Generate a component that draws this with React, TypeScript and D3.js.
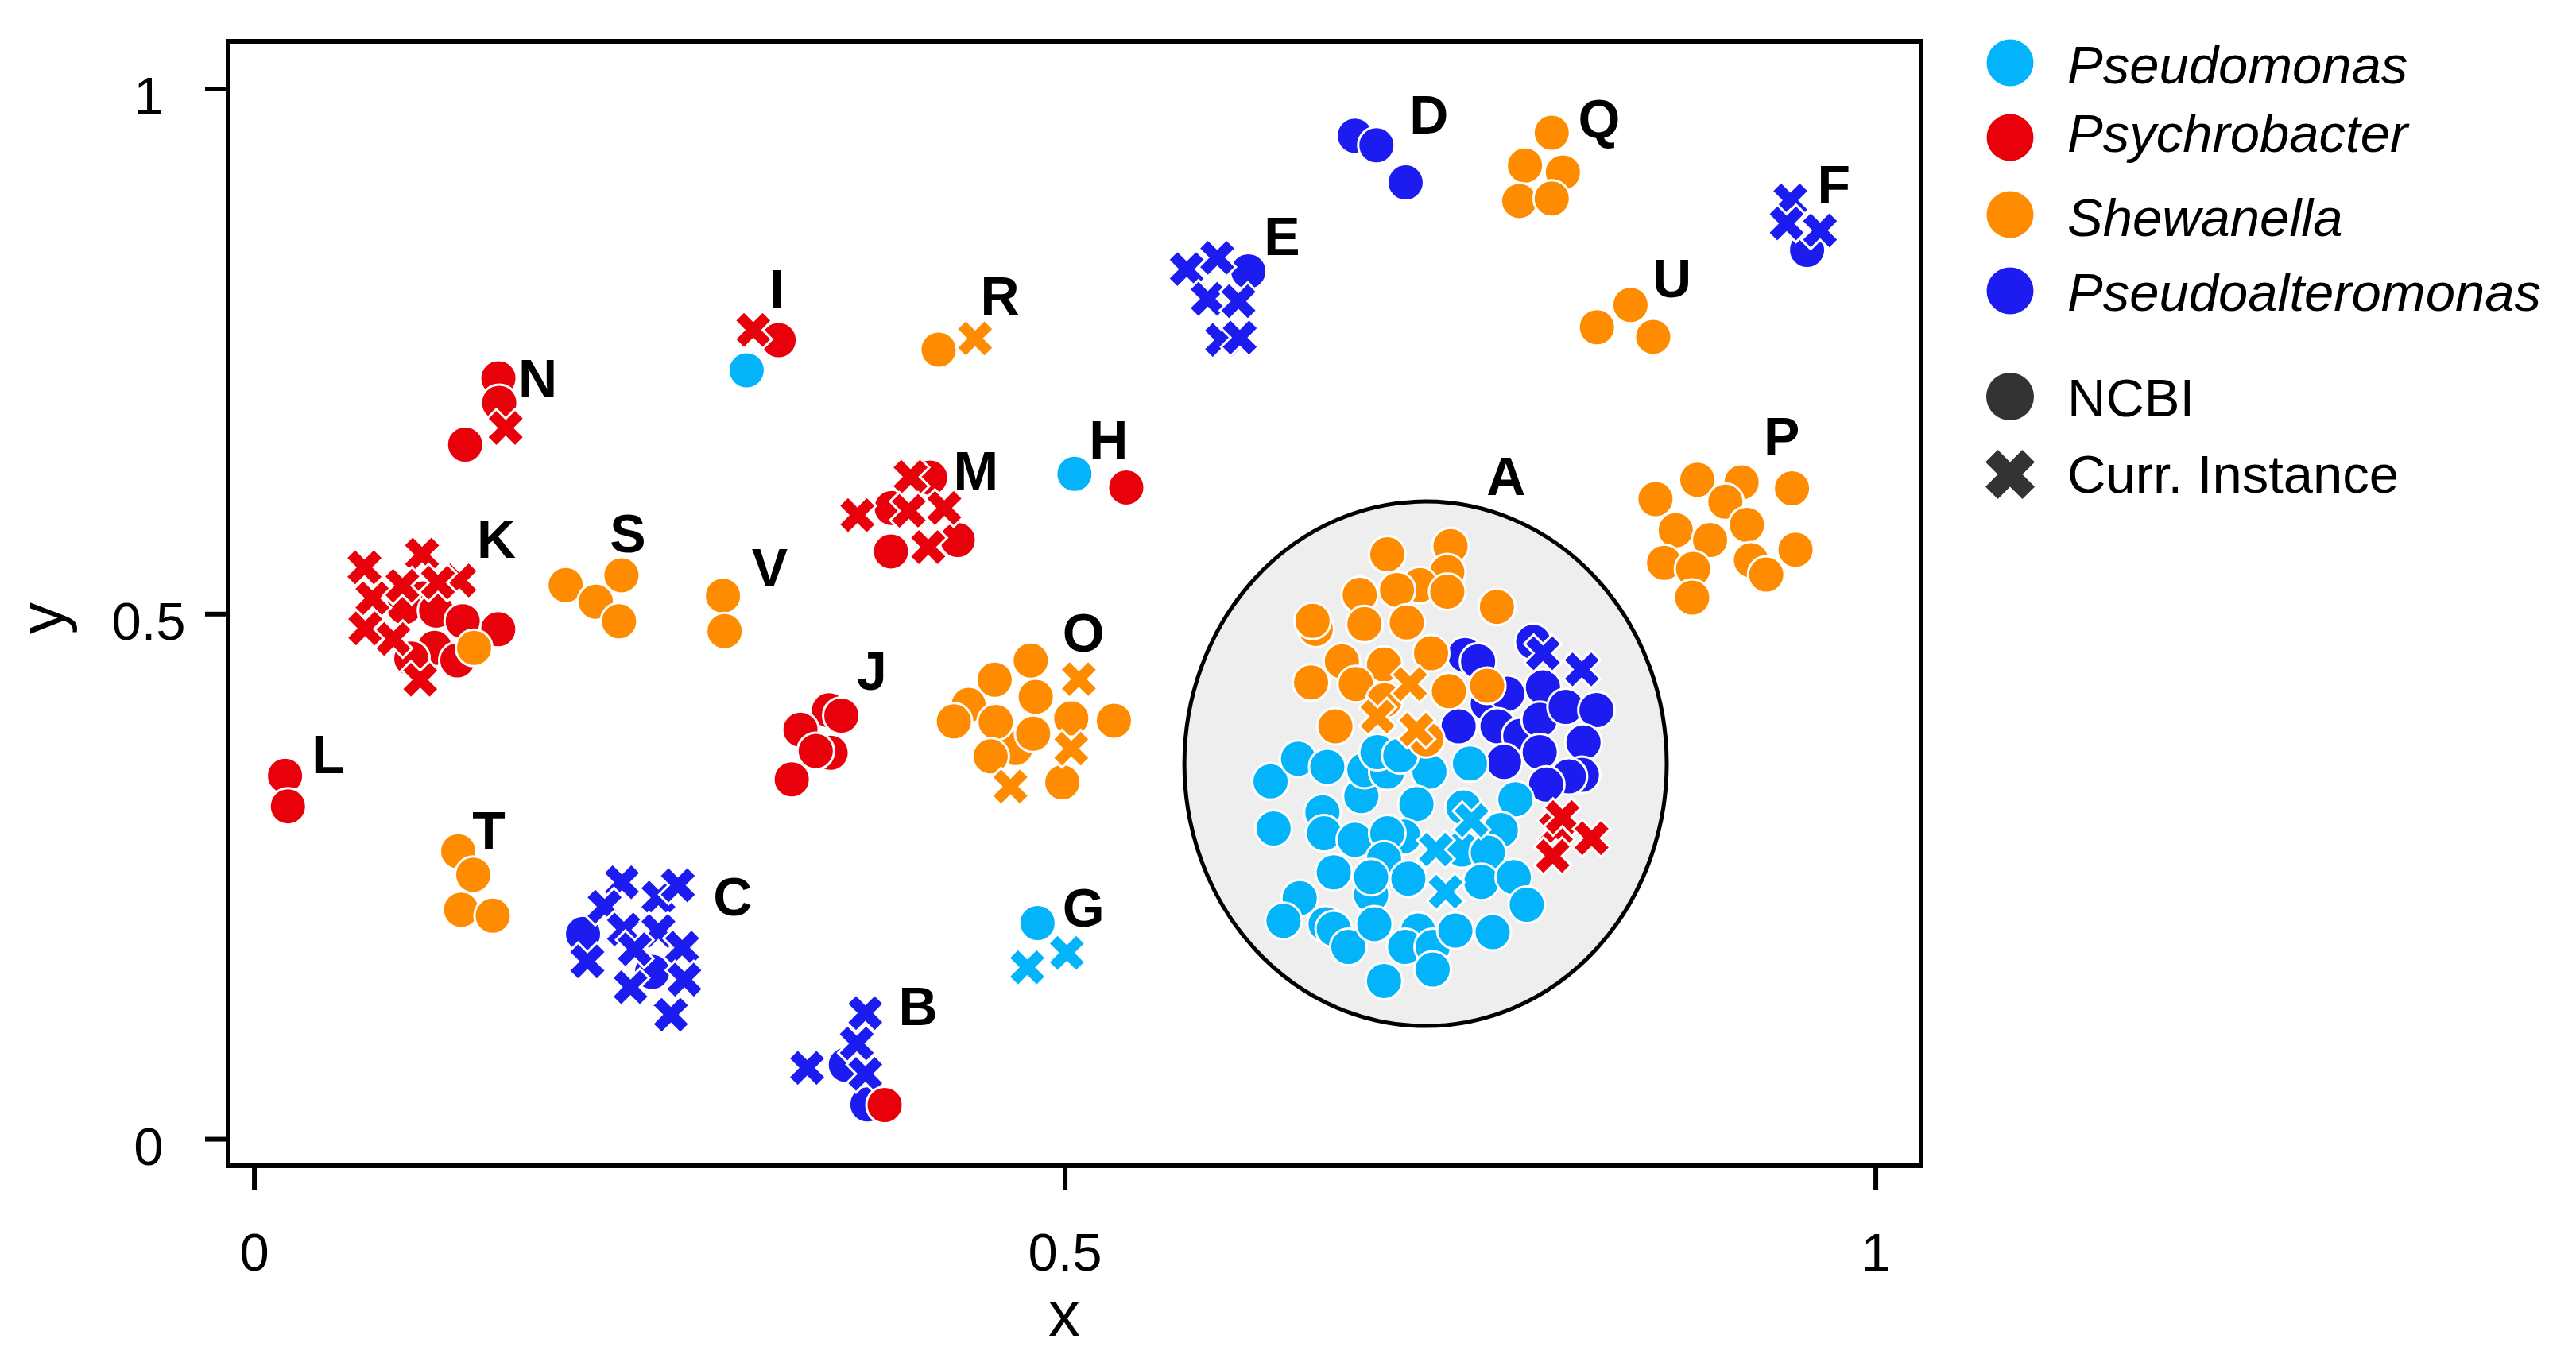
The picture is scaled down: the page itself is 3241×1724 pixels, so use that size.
import React, { useEffect } from 'react';
import * as d3 from 'd3';

type Pt = [number, number];

// ---------- categories ----------
const genera = ['Pseudomonas', 'Psychrobacter', 'Shewanella', 'Pseudoalteromonas'];
const genusColors = ['#04B4FB', '#E8000B', '#FF8C00', '#1C1CF0'];
const sources = ['NCBI', 'Curr. Instance'];

// ---------- axis ----------
const xTicks = [0, 0.5, 1];
const xTickLabels = ['0', '0.5', '1'];
const yTicks = [0, 0.5, 1];
const yTickLabels = ['0', '0.5', '1'];
const xDomain: Pt = [-0.0162, 1.0279];
const yDomain: Pt = [-0.0253, 1.0454];

// ---------- series (x, y) ----------
const pseudomonasNCBI: Pt[] = [
  [0.3036, 0.7321], [0.5058, 0.6335], [0.483, 0.2059],
  [0.6267, 0.3407], [0.6437, 0.3623], [0.6617, 0.3546], [0.6286, 0.2959], [0.6587, 0.3113],
  [0.6597, 0.2913], [0.6827, 0.3268], [0.6846, 0.3515], [0.6987, 0.35], [0.7247, 0.35],
  [0.7497, 0.3577], [0.7167, 0.3191], [0.6787, 0.2851], [0.7087, 0.2882], [0.7777, 0.3237],
  [0.7687, 0.2944], [0.7457, 0.316], [0.6927, 0.3685], [0.7067, 0.3654], [0.6987, 0.2913],
  [0.6967, 0.2666], [0.7447, 0.2758], [0.7607, 0.2728], [0.6887, 0.2327],
  [0.6657, 0.2541], [0.6447, 0.2295], [0.6347, 0.2079], [0.6607, 0.2048], [0.6657, 0.2002],
  [0.6747, 0.1832], [0.6907, 0.2048], [0.6887, 0.2496], [0.7117, 0.2481], [0.7177, 0.1986],
  [0.7097, 0.1832], [0.7267, 0.1832], [0.7407, 0.1986], [0.7567, 0.245], [0.7637, 0.1971],
  [0.7767, 0.2496], [0.7847, 0.2233], [0.6967, 0.1507], [0.7267, 0.1616],
];
const pseudomonasCurr: Pt[] = [
  [0.5011, 0.1774], [0.4767, 0.1637],
  [0.7507, 0.3037], [0.7287, 0.2758], [0.7347, 0.2357],
];

const psychrobacterNCBI: Pt[] = [
  [0.1505, 0.7246], [0.151, 0.7011], [0.13, 0.6614],
  [0.3233, 0.7609], [0.5377, 0.6206],
  [0.4167, 0.63], [0.3931, 0.601], [0.4338, 0.5706], [0.3926, 0.5597],
  [0.104, 0.515], [0.0925, 0.5066], [0.1121, 0.5033], [0.1285, 0.4932], [0.1504, 0.4857],
  [0.1111, 0.4678], [0.0968, 0.4577], [0.1252, 0.4559],
  [0.3544, 0.4084], [0.362, 0.4034], [0.3368, 0.3899], [0.3554, 0.3679], [0.3462, 0.3696],
  [0.3314, 0.3426],
  [0.0189, 0.346], [0.0207, 0.317],
  [0.3887, 0.0326],
];
const psychrobacterCurr: Pt[] = [
  [0.155, 0.6773], [0.3077, 0.7706],
  [0.4047, 0.6307], [0.3719, 0.5942], [0.4036, 0.5983], [0.4255, 0.601], [0.4156, 0.5638],
  [0.0679, 0.5445], [0.1034, 0.5566], [0.1264, 0.532], [0.0728, 0.5151], [0.0913, 0.527],
  [0.1132, 0.53], [0.0684, 0.4864], [0.0858, 0.4763], [0.1023, 0.4375],
  [0.8027, 0.2944], [0.8067, 0.3067], [0.8247, 0.2866], [0.8007, 0.2697],
];

const shewanellaNCBI: Pt[] = [
  [0.422, 0.7518],
  [0.192, 0.5276], [0.2106, 0.5118], [0.2264, 0.537], [0.2249, 0.4932],
  [0.289, 0.5175], [0.29, 0.4837],
  [0.1355, 0.4678],
  [0.1257, 0.2742], [0.135, 0.2518], [0.1275, 0.2185], [0.147, 0.2128],
  [0.4788, 0.4557], [0.4405, 0.4135], [0.4566, 0.4376], [0.4819, 0.4212], [0.4314, 0.3978],
  [0.4694, 0.3725], [0.4572, 0.3973], [0.4803, 0.3862], [0.5038, 0.4007], [0.5301, 0.3985],
  [0.4541, 0.3645], [0.4983, 0.3398],
  [0.8001, 0.9583], [0.7836, 0.9272], [0.807, 0.9205], [0.7801, 0.8934], [0.8001, 0.8958],
  [0.8487, 0.7944], [0.828, 0.7732], [0.8627, 0.764],
  [0.8899, 0.6279], [0.9172, 0.6255], [0.8641, 0.6096], [0.9072, 0.607], [0.9483, 0.6198],
  [0.8766, 0.5799], [0.9205, 0.585], [0.8978, 0.5705], [0.8694, 0.5488], [0.8873, 0.543],
  [0.923, 0.5513], [0.9324, 0.5376], [0.9505, 0.5613], [0.8867, 0.5157],
  [0.6987, 0.5569], [0.7377, 0.5647], [0.7357, 0.5399], [0.7187, 0.5276], [0.7047, 0.523],
  [0.6817, 0.5183], [0.7357, 0.5214], [0.7663, 0.5069], [0.6546, 0.4859], [0.6526, 0.4936],
  [0.6846, 0.4905], [0.7107, 0.492], [0.6707, 0.455], [0.6967, 0.4519], [0.7257, 0.4627],
  [0.6517, 0.4349], [0.6793, 0.4334], [0.697, 0.418], [0.7367, 0.4266], [0.7603, 0.4318],
  [0.6667, 0.3932], [0.7227, 0.3809],
];
const shewanellaCurr: Pt[] = [
  [0.4445, 0.7625],
  [0.5085, 0.4381], [0.5038, 0.3719], [0.4663, 0.3358],
  [0.7127, 0.4334], [0.6927, 0.4025], [0.7167, 0.39],
];

const pseudoalteromonasNCBI: Pt[] = [
  [0.6787, 0.9556], [0.692, 0.9464], [0.71, 0.911],
  [0.613, 0.8263], [0.9576, 0.8468],
  [0.2027, 0.1954], [0.2453, 0.1593],
  [0.3648, 0.0708], [0.3781, 0.0332],
  [0.7467, 0.4611], [0.7547, 0.455], [0.7427, 0.3932], [0.7607, 0.4148], [0.7727, 0.4241],
  [0.7667, 0.3932], [0.7807, 0.384], [0.7707, 0.3592], [0.7887, 0.4735], [0.7947, 0.4303],
  [0.7927, 0.3994], [0.8087, 0.4117], [0.8277, 0.4086], [0.8197, 0.3778], [0.7927, 0.3685],
  [0.8187, 0.3469], [0.8107, 0.3454], [0.7967, 0.3377],
];
const pseudoalteromonasCurr: Pt[] = [
  [0.575, 0.8285], [0.5938, 0.8393], [0.588, 0.8002], [0.6069, 0.798], [0.5968, 0.7611],
  [0.6077, 0.7633],
  [0.9473, 0.894], [0.945, 0.872], [0.9656, 0.8654],
  [0.2267, 0.2446], [0.2492, 0.2301], [0.2612, 0.2418], [0.216, 0.2214], [0.2279, 0.1997],
  [0.2492, 0.1983], [0.2638, 0.1824], [0.2054, 0.1694], [0.2346, 0.1809], [0.232, 0.1447],
  [0.2652, 0.152], [0.2569, 0.1186],
  [0.3768, 0.1201], [0.3715, 0.0911], [0.3409, 0.068], [0.3768, 0.0622],
  [0.7947, 0.4627], [0.8187, 0.4473],
];

// ---------- cluster labels ----------
const clusterNames = ['A', 'B', 'C', 'D', 'E', 'F', 'G', 'H', 'I', 'J', 'K', 'L', 'M', 'N', 'O', 'P', 'Q', 'R', 'S', 'T', 'U', 'V'];
const clusterLabelX = [0.7719, 0.4093, 0.295, 0.7244, 0.6338, 0.9741, 0.5114, 0.5268, 0.3221, 0.3808, 0.1493, 0.0456, 0.445, 0.1747, 0.5113, 0.942, 0.8293, 0.4598, 0.2303, 0.1446, 0.8742, 0.3178];
const clusterLabelY = [0.613, 0.1084, 0.2133, 0.9576, 0.8417, 0.8907, 0.2024, 0.6483, 0.7919, 0.4279, 0.5533, 0.3485, 0.6186, 0.7067, 0.4642, 0.6509, 0.9542, 0.7851, 0.5591, 0.2759, 0.8019, 0.5263];

// highlighted region A
const ellipseCenter: Pt = [0.7223, 0.3575];
const ellipseSize: Pt = [0.2975, 0.4994];

const FONT = "'Liberation Sans', Arial, Helvetica, sans-serif";

function xMarkerPath(size: number): string {
  const v: Pt[] = [[-1, -2], [0, -1], [1, -2], [2, -1], [1, 0], [2, 1], [1, 2], [0, 1], [-1, 2], [-2, 1], [-1, 0], [-2, -1]];
  const s = size / 4;
  return 'M' + v.map(([a, b]) => `${a * s},${b * s}`).join('L') + 'Z';
}

export default function App() {
  useEffect(() => {
    document.body.style.margin = '0';
    document.body.style.overflow = 'hidden';
  }, []);

  const left = 287, right = 2417, top = 52, bottom = 1467;
  const x = d3.scaleLinear().domain(xDomain).range([left, right]);
  const y = d3.scaleLinear().domain(yDomain).range([bottom, top]);

  const layers: { pts: Pt[]; genus: number; src: number }[] = [
    { pts: pseudoalteromonasNCBI, genus: 3, src: 0 },
    { pts: pseudoalteromonasCurr, genus: 3, src: 1 },
    { pts: pseudomonasNCBI, genus: 0, src: 0 },
    { pts: psychrobacterNCBI, genus: 1, src: 0 },
    { pts: shewanellaNCBI, genus: 2, src: 0 },
    { pts: shewanellaCurr, genus: 2, src: 1 },
    { pts: pseudomonasCurr, genus: 0, src: 1 },
    { pts: psychrobacterCurr, genus: 1, src: 1 },
  ];

  const R = 23;
  const xPath = xMarkerPath(47);
  const legendXPath = xMarkerPath(62);

  const ecx = x(ellipseCenter[0]);
  const ecy = y(ellipseCenter[1]);
  const erx = x(ellipseCenter[0] + ellipseSize[0] / 2) - ecx;
  const ery = ecy - y(ellipseCenter[1] + ellipseSize[1] / 2);

  const legendGenusY = [79, 173, 270, 366];
  const legendGenusBase = [105, 191, 297, 391];
  const legendSrcY = [499, 597];
  const legendSrcBase = [524, 620];

  return (
    <svg width={3241} height={1724} style={{ position: 'absolute', left: 0, top: 0, display: 'block', background: '#fff' }} fontFamily={FONT}>
      <rect x={0} y={0} width={3241} height={1724} fill="#ffffff" />
      {/* highlight ellipse */}
      <ellipse cx={ecx} cy={ecy} rx={erx} ry={ery} fill="#eeeeee" stroke="#000" strokeWidth={5} />

      {/* points */}
      {layers.map((L, li) => (
        <g key={li}>
          {L.pts.map((p, i) =>
            L.src === 0 ? (
              <circle key={i} cx={x(p[0])} cy={y(p[1])} r={R} fill={genusColors[L.genus]} stroke="#fff" strokeWidth={3} />
            ) : (
              <path key={i} d={xPath} transform={`translate(${x(p[0])},${y(p[1])})`} fill={genusColors[L.genus]} stroke="#fff" strokeWidth={3} strokeLinejoin="miter" />
            )
          )}
        </g>
      ))}

      {/* cluster labels */}
      {clusterNames.map((n, i) => (
        <text key={n} x={x(clusterLabelX[i])} y={y(clusterLabelY[i])} textAnchor="middle" fontSize={68} fontWeight="bold" fill="#000">{n}</text>
      ))}

      {/* frame */}
      <rect x={left} y={top} width={right - left} height={bottom - top} fill="none" stroke="#000" strokeWidth={6} />

      {/* x axis ticks */}
      {xTicks.map((t, i) => (
        <g key={'xt' + i}>
          <line x1={x(t)} x2={x(t)} y1={bottom} y2={bottom + 31} stroke="#000" strokeWidth={6} />
          <text x={x(t)} y={1599} textAnchor="middle" fontSize={67} fill="#000">{xTickLabels[i]}</text>
        </g>
      ))}
      {/* y axis ticks */}
      {yTicks.map((t, i) => (
        <g key={'yt' + i}>
          <line x1={left - 29} x2={left} y1={y(t)} y2={y(t)} stroke="#000" strokeWidth={6} />
          <text x={187} y={y(t) + 32} textAnchor="middle" fontSize={67} fill="#000">{yTickLabels[i]}</text>
        </g>
      ))}
      {/* axis labels */}
      <text x={1339} y={1681} textAnchor="middle" fontSize={80} fill="#000">x</text>
      <text transform={`translate(79.5,778) rotate(-90)`} textAnchor="middle" fontSize={80} fill="#000">y</text>

      {/* legend */}
      {genera.map((g, i) => (
        <g key={g}>
          <circle cx={2529} cy={legendGenusY[i]} r={29.5} fill={genusColors[i]} />
          <text x={2601} y={legendGenusBase[i]} fontSize={67} fontStyle="italic" fill="#000">{g}</text>
        </g>
      ))}
      {sources.map((s, i) => (
        <g key={s}>
          {i === 0 ? (
            <circle cx={2529} cy={legendSrcY[i]} r={30} fill="#333333" />
          ) : (
            <path d={legendXPath} transform={`translate(2529,${legendSrcY[i]})`} fill="#333333" />
          )}
          <text x={2601} y={legendSrcBase[i]} fontSize={67} fill="#000">{s}</text>
        </g>
      ))}
    </svg>
  );
}
